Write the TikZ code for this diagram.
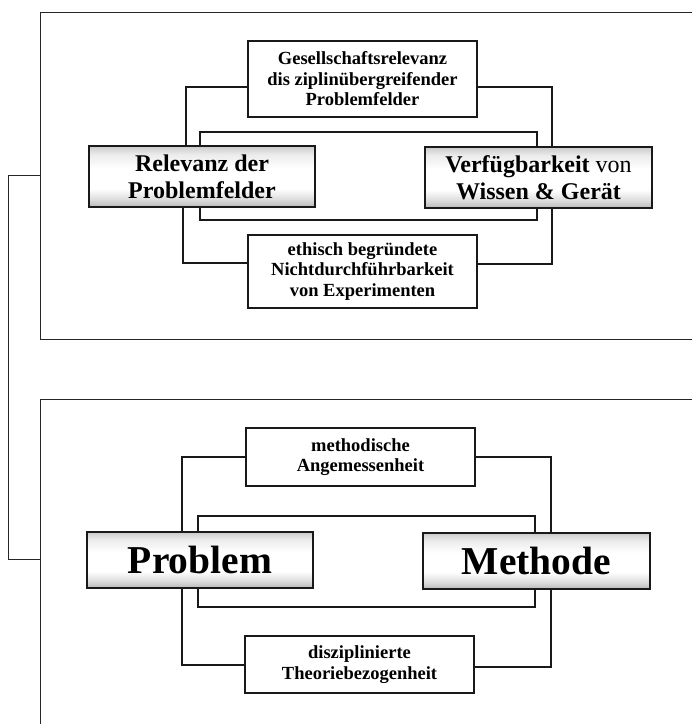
\documentclass[tikz,border=0pt]{standalone}
\usepackage{fontspec}
\setmainfont{Liberation Serif}
\pgfdeclareverticalshading{nodeshade}{100bp}{color(0bp)=(gray!55); color(25bp)=(gray!55); color(31bp)=(gray!28); color(40bp)=(white); color(57bp)=(white); color(68bp)=(gray!15); color(75bp)=(gray!42); color(100bp)=(gray!42)}
\begin{document}
\begin{tikzpicture}[x=1pt,y=-1pt,
  frame/.style={line width=1pt,draw=black!85},
  conn/.style={line width=1.2pt,draw=black!90},
  smallbox/.style={draw=black!90,line width=1.2pt,fill=white,inner sep=0pt,minimum width=229pt,align=center,
    font=\bfseries\fontsize{18.5}{20.5}\selectfont},
  bigbox/.style={draw=black!90,line width=1.4pt,shading=nodeshade,
    inner sep=0pt,minimum width=226pt,align=center},
]
\useasboundingbox (0,0) rectangle (692,724);
\fill[white] (0,0) rectangle (692,724);
% frames
\draw[frame] (692,12) -- (40,12) -- (40,339) -- (692,339);
\draw[frame] (692,399) -- (40,399) -- (40,724);
\draw[frame] (40,175) -- (8,175) -- (8,559) -- (40,559);

% ---------- top panel ----------
\coordinate (a1) at (186,87);
\coordinate (a2) at (552,87);
\coordinate (a3) at (183,263);
\coordinate (a4) at (552,264);
\coordinate (a5) at (200,132);
\coordinate (a6) at (537,132);
\coordinate (a7) at (200,220);
\coordinate (a8) at (537,220);

\node[smallbox,minimum height=76pt] (T1) at (362.5,79) {Gesellschaftsrelevanz\\dis ziplinübergreifender\\Problemfelder};
\node[smallbox,minimum height=73pt] (B1) at (362.5,271.5) {ethisch begründete\\Nichtdurchführbarkeit\\von Experimenten};
\node[bigbox,minimum height=61pt,font=\bfseries\fontsize{24}{27}\selectfont] (L1) at (202,176.5) {Relevanz der\\Problemfelder};
\node[bigbox,minimum height=61pt,minimum width=227pt,font=\bfseries\fontsize{24}{27}\selectfont] (R1) at (538.5,177.5) {Verfügbarkeit \textmd{von}\\Wissen \& Gerät};

\draw[conn] (L1.north -| a1) -- (a1) -- (a1 -| T1.west);
\draw[conn] (R1.north -| a2) -- (a2) -- (a2 -| T1.east);
\draw[conn] (L1.south -| a3) -- (a3) -- (a3 -| B1.west);
\draw[conn] (R1.south -| a4) -- (a4) -- (a4 -| B1.east);
\draw[conn] (L1.north -| a5) -- (a5) -- (a6) -- (R1.north -| a6);
\draw[conn] (L1.south -| a7) -- (a7) -- (a8) -- (R1.south -| a8);

% ---------- bottom panel ----------
\coordinate (b1) at (182,457);
\coordinate (b2) at (551,457);
\coordinate (b3) at (182,665);
\coordinate (b4) at (551,667);
\coordinate (b5) at (198,516);
\coordinate (b6) at (535,516);
\coordinate (b7) at (198,607);
\coordinate (b8) at (535,607);

\node[smallbox,minimum height=58pt] (T2) at (360.5,457) {methodische\\Angemessenheit};
\node[smallbox,minimum height=57pt] (B2) at (359.5,664.5) {disziplinierte\\Theoriebezogenheit};
\node[bigbox,minimum height=56pt,font=\bfseries\fontsize{39.5}{44}\selectfont] (L2) at (200,560) {Problem};
\node[bigbox,minimum height=56pt,minimum width=227pt,font=\bfseries\fontsize{39.5}{44}\selectfont] (R2) at (536.5,561) {Methode};

\draw[conn] (L2.north -| b1) -- (b1) -- (b1 -| T2.west);
\draw[conn] (R2.north -| b2) -- (b2) -- (b2 -| T2.east);
\draw[conn] (L2.south -| b3) -- (b3) -- (b3 -| B2.west);
\draw[conn] (R2.south -| b4) -- (b4) -- (b4 -| B2.east);
\draw[conn] (L2.north -| b5) -- (b5) -- (b6) -- (R2.north -| b6);
\draw[conn] (L2.south -| b7) -- (b7) -- (b8) -- (R2.south -| b8);
\end{tikzpicture}
\end{document}
